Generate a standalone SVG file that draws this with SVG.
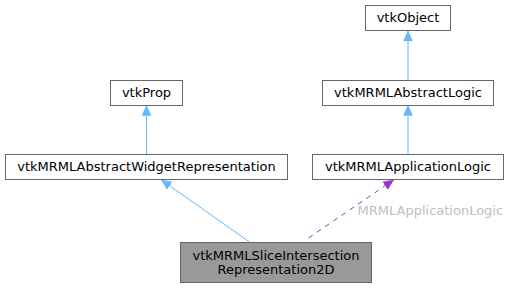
<svg xmlns="http://www.w3.org/2000/svg" width="512" height="288" viewBox="0 0 512 288">
  <defs>
    <style>
      .node rect { fill: #ffffff; stroke: #666666; stroke-width: 1; }
      .node.current rect { fill: #999999; }
      text { font-family: "DejaVu Sans", sans-serif; font-size: 13px; fill: #000000; text-anchor: middle; }
      .label { fill: #bebebe; text-anchor: start; }
      .inherit { stroke: #63b8ff; stroke-width: 1; fill: none; }
      .usage { stroke: #9a32cd; stroke-width: 1; fill: none; stroke-dasharray: 5,5; }
    </style>
    <marker id="arrow-blue" viewBox="0 0 10 10" refX="10" refY="5" markerWidth="10" markerHeight="10" markerUnits="userSpaceOnUse" orient="auto">
      <path d="M0,0.5 L10,5 L0,9.5 Z" fill="#63b8ff" stroke="#63b8ff" stroke-width="0.5"/>
    </marker>
    <marker id="arrow-purple" viewBox="0 0 10 10" refX="10" refY="5" markerWidth="10" markerHeight="10" markerUnits="userSpaceOnUse" orient="auto">
      <path d="M0,0.5 L10,5 L0,9.5 Z" fill="#9a32cd" stroke="#9a32cd" stroke-width="0.5"/>
    </marker>
  </defs>
  <rect width="512" height="288" fill="#ffffff"/>

  <g id="edges">
    <path class="inherit" d="M408,80 L408,31" marker-end="url(#arrow-blue)"/>
    <path class="inherit" d="M146.5,154.5 L146.5,105.5" marker-end="url(#arrow-blue)"/>
    <path class="inherit" d="M408,154.5 L408,105.5" marker-end="url(#arrow-blue)"/>
    <path class="inherit" d="M249.5,242 L161.5,180" marker-end="url(#arrow-blue)"/>
    <path class="usage" d="M308.5,238 L393.5,180" marker-end="url(#arrow-purple)"/>
    <text class="label" x="357.5" y="215">MRMLApplicationLogic</text>
  </g>

  <g id="node-vtkObject" class="node">
    <rect x="365.5" y="5.5" width="85" height="25"/>
    <text x="408" y="22">vtkObject</text>
  </g>
  <g id="node-vtkMRMLAbstractLogic" class="node">
    <rect x="322.5" y="80.5" width="171" height="25"/>
    <text x="408" y="97">vtkMRMLAbstractLogic</text>
  </g>
  <g id="node-vtkProp" class="node">
    <rect x="110.5" y="80.5" width="72" height="25"/>
    <text x="146.5" y="97">vtkProp</text>
  </g>
  <g id="node-vtkMRMLAbstractWidgetRepresentation" class="node">
    <rect x="5.5" y="154.5" width="282" height="25"/>
    <text x="146.5" y="171">vtkMRMLAbstractWidgetRepresentation</text>
  </g>
  <g id="node-vtkMRMLApplicationLogic" class="node">
    <rect x="312.5" y="154.5" width="191" height="25"/>
    <text x="408" y="171">vtkMRMLApplicationLogic</text>
  </g>
  <g id="node-vtkMRMLSliceIntersectionRepresentation2D" class="node current">
    <rect x="180.5" y="242.5" width="191" height="40"/>
    <text x="276" y="259.5">vtkMRMLSliceIntersection</text>
    <text x="276" y="273.5">Representation2D</text>
  </g>
</svg>
